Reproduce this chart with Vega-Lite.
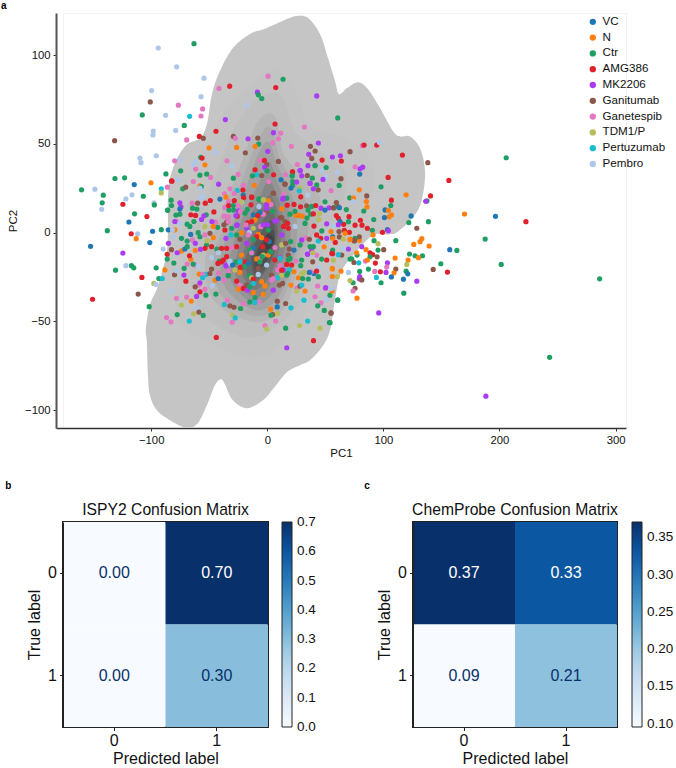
{"$schema":"https://vega.github.io/schema/vega-lite/v6.json","padding":{"left":0,"top":0,"right":0,"bottom":0},"bounds":"flush","spacing":94,"config":{"font":"Liberation Sans","title":{"font":"Liberation Sans","fontWeight":"normal","color":"#111"},"axis":{"labelFont":"Liberation Sans","titleFont":"Liberation Sans","titleFontWeight":"normal","labelColor":"#111","titleColor":"#111","grid":false},"legend":{"labelFont":"Liberation Sans"}},
"datasets":{"kde":[
{"l":"a","i":1,"x":-71,"y":-109.6},{"l":"a","i":2,"x":-83.9,"y":-105.6},{"l":"a","i":3,"x":-95.1,"y":-100},{"l":"a","i":4,"x":-101.1,"y":-91.5},{"l":"a","i":5,"x":-102.8,"y":-80.2},{"l":"a","i":6,"x":-103.7,"y":-61.6},{"l":"a","i":7,"x":-104.6,"y":-54.2},{"l":"a","i":8,"x":-101.1,"y":-40.7},{"l":"a","i":9,"x":-95.1,"y":-31.6},{"l":"a","i":10,"x":-89.9,"y":-20.3},{"l":"a","i":11,"x":-86.5,"y":-10.7},{"l":"a","i":12,"x":-85.6,"y":0.6},{"l":"a","i":13,"x":-85.6,"y":10.2},{"l":"a","i":14,"x":-85.6,"y":19.2},{"l":"a","i":15,"x":-83.9,"y":30.5},{"l":"a","i":16,"x":-77.8,"y":41.8},{"l":"a","i":17,"x":-69.2,"y":49.7},{"l":"a","i":18,"x":-58,"y":53.1},{"l":"a","i":19,"x":-52,"y":61},{"l":"a","i":20,"x":-47.7,"y":78},{"l":"a","i":21,"x":-40.8,"y":91},{"l":"a","i":22,"x":-29.6,"y":104},{"l":"a","i":23,"x":-14.9,"y":111.9},{"l":"a","i":24,"x":-0.3,"y":115.3},{"l":"a","i":25,"x":17,"y":120.3},{"l":"a","i":26,"x":25.6,"y":122},{"l":"a","i":27,"x":35.1,"y":120.9},{"l":"a","i":28,"x":45.4,"y":111.9},{"l":"a","i":29,"x":52.3,"y":98.3},{"l":"a","i":30,"x":58.4,"y":85.3},{"l":"a","i":31,"x":61.8,"y":78},{"l":"a","i":32,"x":68.7,"y":81.4},{"l":"a","i":33,"x":78.2,"y":84.7},{"l":"a","i":34,"x":86.8,"y":80.8},{"l":"a","i":35,"x":97.2,"y":70.1},{"l":"a","i":36,"x":108.4,"y":57.1},{"l":"a","i":37,"x":114.4,"y":54.2},{"l":"a","i":38,"x":123,"y":54.2},{"l":"a","i":39,"x":131.6,"y":47.5},{"l":"a","i":40,"x":135.9,"y":34.5},{"l":"a","i":41,"x":133.4,"y":19.2},{"l":"a","i":42,"x":127.3,"y":10.2},{"l":"a","i":43,"x":112.7,"y":0.6},{"l":"a","i":44,"x":104,"y":-1},{"l":"a","i":45,"x":90.3,"y":-1.7},{"l":"a","i":46,"x":71.3,"y":-14.7},{"l":"a","i":47,"x":62.7,"y":-23.7},{"l":"a","i":48,"x":58.4,"y":-37.3},{"l":"a","i":49,"x":54.1,"y":-54.8},{"l":"a","i":50,"x":47.2,"y":-64.4},{"l":"a","i":51,"x":36.8,"y":-71.8},{"l":"a","i":52,"x":28.2,"y":-74.6},{"l":"a","i":53,"x":17,"y":-78.5},{"l":"a","i":54,"x":4.9,"y":-88.1},{"l":"a","i":55,"x":-3.7,"y":-94.4},{"l":"a","i":56,"x":-17.5,"y":-98.9},{"l":"a","i":57,"x":-29.6,"y":-94.4},{"l":"a","i":58,"x":-36.5,"y":-85.3},{"l":"a","i":59,"x":-39.9,"y":-82.5},{"l":"a","i":60,"x":-45.1,"y":-85.9},{"l":"a","i":61,"x":-52,"y":-97.2},{"l":"a","i":62,"x":-60.6,"y":-107.9},
{"l":"b","i":1,"x":-12.3,"y":-70},{"l":"b","i":2,"x":-66.6,"y":-56},{"l":"b","i":3,"x":-79.6,"y":-39},{"l":"b","i":4,"x":-75,"y":-10.7},{"l":"b","i":5,"x":-66.6,"y":23},{"l":"b","i":6,"x":-53.7,"y":45.8},{"l":"b","i":7,"x":-36.5,"y":68.4},{"l":"b","i":8,"x":-10.6,"y":85.3},{"l":"b","i":9,"x":8.4,"y":92},{"l":"b","i":10,"x":23.9,"y":79.7},{"l":"b","i":11,"x":36.8,"y":60},{"l":"b","i":12,"x":67,"y":53},{"l":"b","i":13,"x":88.5,"y":41.8},{"l":"b","i":14,"x":90.2,"y":23},{"l":"b","i":15,"x":71.3,"y":9},{"l":"b","i":16,"x":45.4,"y":-16.4},{"l":"b","i":17,"x":38.5,"y":-39},{"l":"b","i":18,"x":17,"y":-57.6},
{"l":"c","i":1,"x":-10.6,"y":-58.8},{"l":"c","i":2,"x":-53.7,"y":-47.5},{"l":"c","i":3,"x":-66.6,"y":-22},{"l":"c","i":4,"x":-62.3,"y":6.2},{"l":"c","i":5,"x":-45,"y":31.6},{"l":"c","i":6,"x":-27.8,"y":59.9},{"l":"c","i":7,"x":-4.6,"y":76.8},{"l":"c","i":8,"x":12.6,"y":76.8},{"l":"c","i":9,"x":23.9,"y":57},{"l":"c","i":10,"x":45.4,"y":45.8},{"l":"c","i":11,"x":67,"y":34.5},{"l":"c","i":12,"x":62.7,"y":14.7},{"l":"c","i":13,"x":38.5,"y":-10.7},{"l":"c","i":14,"x":28.2,"y":-39},
{"l":"d","i":1,"x":-10.6,"y":-50.3},{"l":"d","i":2,"x":-45,"y":-39},{"l":"d","i":3,"x":-53.7,"y":-16.4},{"l":"d","i":4,"x":-40.8,"y":9},{"l":"d","i":5,"x":-23.5,"y":37.3},{"l":"d","i":6,"x":-8,"y":62.7},{"l":"d","i":7,"x":6.6,"y":65.5},{"l":"d","i":8,"x":15.3,"y":42.9},{"l":"d","i":9,"x":41.1,"y":26},{"l":"d","i":10,"x":45.4,"y":9},{"l":"d","i":11,"x":28.2,"y":-16.4},{"l":"d","i":12,"x":15.3,"y":-41.8},
{"l":"e","i":1,"x":-10.6,"y":-47},{"l":"e","i":2,"x":-40,"y":-35},{"l":"e","i":3,"x":-46,"y":-13},{"l":"e","i":4,"x":-32,"y":10},{"l":"e","i":5,"x":-17,"y":38},{"l":"e","i":6,"x":-4,"y":57},{"l":"e","i":7,"x":4,"y":58},{"l":"e","i":8,"x":12,"y":40},{"l":"e","i":9,"x":32,"y":20},{"l":"e","i":10,"x":35,"y":-1},{"l":"e","i":11,"x":26,"y":-13},{"l":"e","i":12,"x":12,"y":-39},
{"l":"f","i":1,"x":-10.6,"y":-43.5},{"l":"f","i":2,"x":-36.5,"y":-30.5},{"l":"f","i":3,"x":-39,"y":-10.7},{"l":"f","i":4,"x":-23.5,"y":14.7},{"l":"f","i":5,"x":-10.6,"y":40},{"l":"f","i":6,"x":0.6,"y":51.4},{"l":"f","i":7,"x":9.2,"y":37.3},{"l":"f","i":8,"x":23.9,"y":14.7},{"l":"f","i":9,"x":23.9,"y":-10.7},{"l":"f","i":10,"x":9.2,"y":-36.2},
{"l":"g","i":1,"x":-10.6,"y":-40},{"l":"g","i":2,"x":-32,"y":-26},{"l":"g","i":3,"x":-29,"y":-5},{"l":"g","i":4,"x":-15,"y":17},{"l":"g","i":5,"x":-4,"y":32},{"l":"g","i":6,"x":2,"y":40},{"l":"g","i":7,"x":9,"y":28},{"l":"g","i":8,"x":18,"y":13},{"l":"g","i":9,"x":19,"y":-9},{"l":"g","i":10,"x":7,"y":-32},
{"l":"h","i":1,"x":-10.6,"y":-36.2},{"l":"h","i":2,"x":-27.8,"y":-22},{"l":"h","i":3,"x":-19.3,"y":0.6},{"l":"h","i":4,"x":-6.3,"y":20.3},{"l":"h","i":5,"x":2.3,"y":28.8},{"l":"h","i":6,"x":12.6,"y":11.9},{"l":"h","i":7,"x":15.3,"y":-7.9},{"l":"h","i":8,"x":4,"y":-27.7},
{"l":"j","i":1,"x":-10.6,"y":-32},{"l":"j","i":2,"x":-23,"y":-20},{"l":"j","i":3,"x":-15,"y":-1},{"l":"j","i":4,"x":-3,"y":16},{"l":"j","i":5,"x":3,"y":21},{"l":"j","i":6,"x":11,"y":7},{"l":"j","i":7,"x":12,"y":-3},{"l":"j","i":8,"x":4,"y":-22},
{"l":"k","i":1,"x":-10.6,"y":-27.7},{"l":"k","i":2,"x":-19.3,"y":-17.5},{"l":"k","i":3,"x":-10.6,"y":-2.3},{"l":"k","i":4,"x":2.3,"y":11.9},{"l":"k","i":5,"x":9.2,"y":1.7},{"l":"k","i":6,"x":4,"y":-15.3},
{"l":"m","i":1,"x":-10.6,"y":-24},{"l":"m","i":2,"x":-14,"y":-14},{"l":"m","i":3,"x":-9,"y":-4},{"l":"m","i":4,"x":3,"y":7},{"l":"m","i":5,"x":7,"y":1},{"l":"m","i":6,"x":5,"y":-11},{"l":"m","i":7,"x":-1,"y":-20},
{"l":"n","i":1,"x":-10.6,"y":-20.9},{"l":"n","i":2,"x":-8.9,"y":-10.7},{"l":"n","i":3,"x":4,"y":1.7},{"l":"n","i":4,"x":5.8,"y":-6.8},{"l":"n","i":5,"x":-2,"y":-17.5},
{"l":"o","i":1,"x":0.6,"y":-0.6},{"l":"o","i":2,"x":5.8,"y":-4},{"l":"o","i":3,"x":0.6,"y":-9.6},{"l":"o","i":4,"x":-2.8,"y":-5.1}
],"pts":[
{"g":"Ctr","x":-63.1,"y":106.4},{"g":"Pembro","x":-93.9,"y":104},{"g":"Pembro","x":-78.1,"y":93.4},{"g":"Pembro","x":-54.5,"y":87},{"g":"Ganetespib","x":-41.6,"y":81.2},{"g":"AMG386","x":-32.4,"y":82.5},{"g":"Pembro","x":-99.6,"y":80},{"g":"Pembro","x":-57.1,"y":76.6},{"g":"Ganitumab","x":-100.8,"y":73.6},{"g":"Ganetespib","x":-76.6,"y":71.8},{"g":"Ganetespib","x":-55.7,"y":69.7},{"g":"Pertuzumab","x":-66.9,"y":65.5},{"g":"Ganetespib","x":-57.1,"y":65.7},{"g":"Ctr","x":-107.7,"y":66.3},{"g":"Pembro","x":-87.6,"y":66.1},{"g":"Ctr","x":-71.5,"y":60.4},{"g":"Pembro","x":-78.9,"y":57.6},{"g":"Pembro","x":-98.2,"y":57.2},{"g":"Pembro","x":-98.5,"y":55},{"g":"AMG386","x":-44.2,"y":57.1},{"g":"AMG386","x":-58.5,"y":54.2},{"g":"Ganitumab","x":-55.1,"y":53.1},{"g":"Ganetespib","x":-69.4,"y":52.2},{"g":"Ganitumab","x":-131.5,"y":51.8},{"g":"Pembro","x":-109.7,"y":42},{"g":"Pembro","x":-108.8,"y":39.4},{"g":"Pembro","x":-95.6,"y":43.3},{"g":"Ganetespib","x":-79.8,"y":40.5},{"g":"Ctr","x":-131.2,"y":30.5},{"g":"Ctr","x":-122.9,"y":30.9},{"g":"Ctr","x":-87.3,"y":33.1},{"g":"Ctr","x":-74.6,"y":34.8},{"g":"VC","x":-114.6,"y":27.1},{"g":"N","x":-100.2,"y":28.1},{"g":"AMG386","x":-82.1,"y":29},{"g":"Ctr","x":-160,"y":24.1},{"g":"Pembro","x":-148.5,"y":24.5},{"g":"Pertuzumab","x":-91.3,"y":24.7},{"g":"TDM1/P","x":-91.3,"y":22.4},{"g":"Ctr","x":-141.3,"y":21.1},{"g":"Pembro","x":-121.8,"y":19},{"g":"Pembro","x":-116.6,"y":21.3},{"g":"Ctr","x":-106.8,"y":20.5},{"g":"Ctr","x":-142.2,"y":16.8},{"g":"AMG386","x":-124.4,"y":16},{"g":"Pembro","x":-97.6,"y":16.8},{"g":"Ctr","x":-97.3,"y":15.6},{"g":"Pembro","x":-142.7,"y":13.2},{"g":"Ctr","x":-114.3,"y":10.6},{"g":"AMG386","x":-103.7,"y":9.1},{"g":"Ctr","x":-85.8,"y":12.6},{"g":"VC","x":-119.2,"y":6},{"g":"Ctr","x":-137.8,"y":1.1},{"g":"AMG386","x":-117.2,"y":-0.6},{"g":"Pembro","x":-111.7,"y":-0.7},{"g":"VC","x":-98.8,"y":0.8},{"g":"Ctr","x":-91.3,"y":1.7},{"g":"N","x":-112.9,"y":-3.4},
{"g":"Ganetespib","x":0.7,"y":88.1},{"g":"Ctr","x":13.6,"y":86.4},{"g":"AMG386","x":7.3,"y":81.7},{"g":"MK2206","x":-8.5,"y":79.1},{"g":"Ctr","x":-7.7,"y":77.6},{"g":"Ctr","x":-4.8,"y":75.5},{"g":"Pembro","x":-17.7,"y":71.9},{"g":"MK2206","x":42.6,"y":77},{"g":"Ctr","x":60.7,"y":64.6},{"g":"MK2206","x":-36.1,"y":63.7},{"g":"AMG386","x":6.7,"y":61.2},{"g":"Ganetespib","x":32,"y":59.5},{"g":"MK2206","x":5.3,"y":56.3},{"g":"Ganetespib","x":11.6,"y":56.1},{"g":"Ganetespib","x":9.6,"y":52.9},{"g":"Ganitumab","x":-29.2,"y":54.2},{"g":"Ganetespib","x":-27.5,"y":53.1},{"g":"MK2206","x":-16.6,"y":52.9},{"g":"Ganitumab","x":-8.2,"y":53.3},{"g":"Ganetespib","x":4.7,"y":50.7},{"g":"Ctr","x":-7.4,"y":49.9},{"g":"N","x":-10.5,"y":48.6},{"g":"N","x":-26.4,"y":48},{"g":"N","x":-50.2,"y":47.8},{"g":"Ganetespib","x":20.8,"y":48.6},{"g":"MK2206","x":0.4,"y":45.8},{"g":"Ganitumab","x":-18.9,"y":45},{"g":"Ganitumab","x":37.2,"y":48.6},{"g":"Ganitumab","x":41.2,"y":46},{"g":"MK2206","x":44,"y":50.5},{"g":"MK2206","x":35.7,"y":44.1},{"g":"Ganitumab","x":38.3,"y":41.8},{"g":"AMG386","x":47.2,"y":40.9},{"g":"MK2206","x":56.1,"y":42.6},{"g":"MK2206","x":63,"y":43.3},{"g":"Pembro","x":-45,"y":45.2},{"g":"Ctr","x":-57.4,"y":42.4},{"g":"AMG386","x":-56.2,"y":42},{"g":"N","x":-53.7,"y":38.2},{"g":"Ganetespib","x":-34.7,"y":40.5},{"g":"Pembro","x":-30.4,"y":37.5},{"g":"Ganetespib","x":-6.2,"y":40.9},{"g":"AMG386","x":-2.5,"y":40.7},{"g":"Ganitumab","x":9.6,"y":40.1},{"g":"Ganitumab","x":-0.5,"y":38.4},{"g":"MK2206","x":-2.2,"y":36.9},{"g":"Ganetespib","x":25.9,"y":38.4},{"g":"MK2206","x":41.2,"y":37.9},{"g":"Ctr","x":50.7,"y":36.7},{"g":"Pembro","x":46.9,"y":35},{"g":"Pembro","x":50.4,"y":31.6},{"g":"Pembro","x":60.4,"y":33.9},{"g":"Ganetespib","x":-61.7,"y":35.8},{"g":"Pembro","x":-63.7,"y":38.2},{"g":"Pembro","x":-61.7,"y":40.1},{"g":"Ctr","x":-52.2,"y":33},{"g":"Ctr","x":-58,"y":32.4},{"g":"Ganetespib","x":-63.7,"y":28.8},{"g":"Ctr","x":-72.9,"y":24.7},{"g":"Ganitumab","x":-70.3,"y":25.6},{"g":"Ganetespib","x":-86.1,"y":25.6},{"g":"Pembro","x":-76.9,"y":29.6},{"g":"N","x":-58,"y":26.4},{"g":"Ctr","x":-56.8,"y":26},{"g":"Pembro","x":-58,"y":25.1},{"g":"MK2206","x":-41.9,"y":27.3},{"g":"Ganetespib","x":-48.8,"y":31.1},{"g":"Ganetespib","x":-25.2,"y":32.8},{"g":"Ctr","x":-29.2,"y":30.7},{"g":"Ganetespib","x":-20.6,"y":26.6},{"g":"AMG386","x":-10.5,"y":35.4},{"g":"Ctr","x":-0.2,"y":34.8},{"g":"AMG386","x":5.5,"y":32.6},{"g":"Pertuzumab","x":-9.1,"y":32.6},{"g":"Ganitumab","x":-4.8,"y":32.2},{"g":"Ctr","x":-12.8,"y":32},{"g":"N","x":-11.1,"y":26.7},{"g":"Ganetespib","x":1.2,"y":28.8},{"g":"Ganetespib","x":15.6,"y":32.6},{"g":"AMG386","x":21.6,"y":34.3},{"g":"MK2206","x":28.5,"y":34.8},{"g":"Ctr","x":21.6,"y":32},{"g":"MK2206","x":29.7,"y":32},{"g":"Ganitumab","x":15.3,"y":27.3},{"g":"Ctr","x":21.9,"y":28.8},{"g":"MK2206","x":36.9,"y":27.7},{"g":"Ctr","x":42.6,"y":26.9},{"g":"Ganitumab","x":43.8,"y":24.1},{"g":"TDM1/P","x":28.3,"y":25.1},{"g":"Ganetespib","x":55,"y":23.7},{"g":"Ctr","x":61.9,"y":26.6},{"g":"Ganitumab","x":5.3,"y":22.2},{"g":"Ganetespib","x":13.9,"y":21.7},{"g":"Pembro","x":34.9,"y":21.1},{"g":"AMG386","x":28.8,"y":20.2},
{"g":"Ganetespib","x":81.9,"y":49},{"g":"AMG386","x":83.4,"y":49.3},{"g":"AMG386","x":94.3,"y":49.3},{"g":"Pembro","x":96.6,"y":50.8},{"g":"AMG386","x":116.4,"y":43.7},{"g":"Ganitumab","x":71.3,"y":45.6},{"g":"AMG386","x":63.8,"y":40.3},{"g":"Ganetespib","x":75.6,"y":37.1},{"g":"MK2206","x":79.9,"y":36},{"g":"MK2206","x":82.2,"y":36.9},{"g":"VC","x":79.6,"y":33},{"g":"Ganitumab","x":138.3,"y":39.4},{"g":"Ctr","x":205.8,"y":42.2},{"g":"AMG386","x":156.4,"y":29.4},{"g":"AMG386","x":104.1,"y":31.1},{"g":"Ctr","x":98,"y":25.8},{"g":"N","x":79.3,"y":24.1},{"g":"N","x":119.6,"y":21.3},{"g":"AMG386","x":140.6,"y":20.7},{"g":"Ctr","x":137.5,"y":17.9},{"g":"MK2206","x":136.5,"y":17.7},{"g":"AMG386","x":106.9,"y":18.3},{"g":"N","x":85.4,"y":17.5},{"g":"Ctr","x":106.4,"y":15.3},{"g":"N","x":85.9,"y":14.5},{"g":"Ganitumab","x":85.7,"y":20.7},{"g":"Ctr","x":71,"y":19.6},{"g":"N","x":74.2,"y":19.4},{"g":"Pembro","x":74.2,"y":17.5},{"g":"Ganitumab","x":59.5,"y":17},{"g":"Ganitumab","x":60.7,"y":14.7},{"g":"VC","x":62.1,"y":14.1},{"g":"Ctr","x":57.5,"y":14.1},{"g":"Ctr","x":68.1,"y":13},{"g":"Ctr","x":83.1,"y":12.2},{"g":"VC","x":101.5,"y":12.8},{"g":"N","x":104.3,"y":12.6},{"g":"N","x":106.9,"y":10},{"g":"N","x":104.9,"y":8.9},{"g":"VC","x":100.9,"y":8.5},{"g":"VC","x":123.9,"y":9.4},{"g":"N","x":169.9,"y":10.5},{"g":"VC","x":196.6,"y":9.2},{"g":"AMG386","x":222.8,"y":6.2},{"g":"Ctr","x":91.7,"y":7.4},{"g":"Ctr","x":121.9,"y":5.7},{"g":"Ctr","x":138.8,"y":6.2},{"g":"Ganitumab","x":128.8,"y":2.5},{"g":"AMG386","x":59.5,"y":9.6},{"g":"AMG386","x":61.2,"y":8.1},{"g":"AMG386","x":70.4,"y":9},{"g":"Ctr","x":69.9,"y":6.2},{"g":"AMG386","x":80.2,"y":7},{"g":"AMG386","x":81.6,"y":4.2},{"g":"AMG386","x":75.6,"y":4.2},{"g":"AMG386","x":86.2,"y":2.5},{"g":"AMG386","x":99.2,"y":0.2},{"g":"VC","x":103.5,"y":1.7},{"g":"MK2206","x":104.3,"y":1.1},{"g":"Ctr","x":90.5,"y":1.3},{"g":"N","x":91.1,"y":-1.3},{"g":"AMG386","x":65.8,"y":4.7},{"g":"AMG386","x":66.4,"y":1.3},{"g":"AMG386","x":70.7,"y":0.2},{"g":"Ganitumab","x":61.8,"y":0.6},{"g":"N","x":54.9,"y":0.6},{"g":"VC","x":56.3,"y":-2.4},{"g":"VC","x":62.7,"y":6.2},{"g":"MK2206","x":61.2,"y":4.5},{"g":"Ganitumab","x":62.1,"y":-2.4},{"g":"N","x":71.3,"y":-3.6},{"g":"N","x":79.3,"y":-4.3},{"g":"Ganitumab","x":79.3,"y":-2.3},{"g":"TDM1/P","x":65.5,"y":-3.6},{"g":"Ctr","x":75.6,"y":-3.2},{"g":"Ganitumab","x":75,"y":-4.3},{"g":"N","x":67,"y":-0.4},
{"g":"Ctr","x":187.7,"y":-3.6},{"g":"Ctr","x":110.7,"y":-4.5},{"g":"N","x":133.1,"y":-3.4},{"g":"N","x":131.6,"y":-5.1},{"g":"N","x":126.2,"y":-6.6},{"g":"N","x":139.4,"y":-7.5},{"g":"VC","x":157.2,"y":-9.6},{"g":"Ctr","x":163.3,"y":-10},{"g":"Ctr","x":122.5,"y":-12},{"g":"Ctr","x":127.3,"y":-13},{"g":"Ctr","x":133.7,"y":-13},{"g":"N","x":130.2,"y":-14.1},{"g":"N","x":121.3,"y":-15.4},{"g":"TDM1/P","x":120.2,"y":-17.9},{"g":"Ctr","x":149.5,"y":-17.5},{"g":"Ctr","x":201.5,"y":-17.9},{"g":"Ganitumab","x":142.9,"y":-20.7},{"g":"AMG386","x":155.2,"y":-22.2},{"g":"Ctr","x":286.3,"y":-26},{"g":"N","x":110.1,"y":-14.3},{"g":"MK2206","x":103.5,"y":-17},{"g":"Ganetespib","x":102.9,"y":-19.4},{"g":"Ganitumab","x":110.7,"y":-20.5},{"g":"N","x":109.2,"y":-22.6},{"g":"VC","x":106.9,"y":-24.9},{"g":"AMG386","x":97.4,"y":-22},{"g":"MK2206","x":102.3,"y":-22.4},{"g":"Ganetespib","x":92.6,"y":-21.8},{"g":"Ctr","x":119.6,"y":-21.7},{"g":"VC","x":121,"y":-23.2},{"g":"VC","x":117.3,"y":-26.2},{"g":"MK2206","x":128.8,"y":-27.3},{"g":"Ctr","x":117.6,"y":-34.1},{"g":"Pertuzumab","x":94,"y":-25.2},{"g":"Ctr","x":98,"y":-28.2},{"g":"MK2206","x":96,"y":-45.2},{"g":"Ctr","x":243.2,"y":-70.2},{"g":"MK2206","x":188.3,"y":-92.1},{"g":"Ctr","x":92,"y":-4.5},{"g":"TDM1/P","x":95.4,"y":-6.2},{"g":"Ctr","x":95.4,"y":-9.8},{"g":"Ganitumab","x":100.3,"y":-9.6},{"g":"AMG386","x":88.5,"y":-11.3},{"g":"AMG386","x":90.8,"y":-12.4},{"g":"Ganitumab","x":94.6,"y":-13.6},{"g":"Ctr","x":88.5,"y":-13.6},{"g":"N","x":85.1,"y":-9.6},{"g":"AMG386","x":93.1,"y":-17.1},{"g":"Ganetespib","x":84.5,"y":-16},{"g":"Ctr","x":87.1,"y":-20.5},{"g":"N","x":86.2,"y":-15.4},{"g":"Ctr","x":77.3,"y":-12.6},{"g":"Ctr","x":72.7,"y":-14.7},{"g":"Ganitumab","x":74.7,"y":-16.8},{"g":"Pertuzumab","x":78.8,"y":-17},{"g":"Ctr","x":79.6,"y":-21.8},{"g":"MK2206","x":79.6,"y":-24.7},{"g":"MK2206","x":79.3,"y":-26},{"g":"Ganitumab","x":81.4,"y":-26.6},{"g":"Ctr","x":73.9,"y":-28.2},{"g":"TDM1/P","x":71.3,"y":-27},{"g":"Ganitumab","x":75.6,"y":-31.3},{"g":"Ganetespib","x":73.9,"y":-32.8},{"g":"N","x":77.3,"y":-36.9},{"g":"Ctr","x":60.7,"y":-38},{"g":"Pembro","x":69.9,"y":-22.4},{"g":"N","x":63.5,"y":-21.7},{"g":"TDM1/P","x":60.4,"y":-24.7},{"g":"Ganitumab","x":54.9,"y":-45.2},{"g":"Ctr","x":54.1,"y":-50.7},{"g":"MK2206","x":81.4,"y":-7.9},{"g":"N","x":77,"y":-11.3},{"g":"Ganitumab","x":64.1,"y":-12.6},{"g":"Pertuzumab","x":61.2,"y":-12.4},{"g":"MK2206","x":69.9,"y":-9.2},{"g":"Pembro","x":65.5,"y":-8.9},{"g":"Ganitumab","x":75,"y":-4.7},{"g":"N","x":71.3,"y":-4},{"g":"AMG386","x":58.6,"y":-5.5},{"g":"Ctr","x":56.3,"y":-9.8},{"g":"AMG386","x":56.3,"y":-11.9},{"g":"TDM1/P","x":56.9,"y":-15.6},{"g":"N","x":56.1,"y":-20.5},{"g":"N","x":56.1,"y":-24.7},{"g":"Ctr","x":54,"y":-35.2},
{"g":"AMG386","x":21.8,"y":34.1},{"g":"MK2206","x":35.1,"y":37.7},{"g":"Ctr","x":41.1,"y":37.7},{"g":"Ctr","x":21.3,"y":32},{"g":"MK2206","x":28.2,"y":35.1},{"g":"Ganitumab","x":34.5,"y":32.2},{"g":"Ctr","x":38.8,"y":30.7},{"g":"Pembro","x":48.9,"y":30.2},{"g":"MK2206","x":48,"y":30},{"g":"Ganitumab","x":63.5,"y":30.4},{"g":"VC","x":11.8,"y":29.8},{"g":"Ganitumab","x":15.2,"y":27.4},{"g":"Ctr","x":21.8,"y":26.6},{"g":"MK2206","x":25.3,"y":28.5},{"g":"VC","x":20.4,"y":25.1},{"g":"MK2206","x":36.8,"y":27.9},{"g":"MK2206","x":39.7,"y":24.7},{"g":"Pertuzumab","x":27.6,"y":23.6},{"g":"MK2206","x":13.2,"y":18.9},{"g":"Ctr","x":16.7,"y":19.4},{"g":"AMG386","x":17.2,"y":15.5},{"g":"AMG386","x":23,"y":15.9},{"g":"N","x":12.4,"y":13.5},{"g":"AMG386","x":28.7,"y":14.6},{"g":"Ganitumab","x":33.9,"y":15.1},{"g":"Ctr","x":35.1,"y":12.7},{"g":"Ctr","x":38.2,"y":14.8},{"g":"Ctr","x":49.7,"y":17.4},{"g":"MK2206","x":53.2,"y":14},{"g":"Ganitumab","x":56.9,"y":14},{"g":"AMG386","x":41.7,"y":15.3},{"g":"N","x":27.3,"y":9.7},{"g":"N","x":24.7,"y":9.7},{"g":"N","x":30.2,"y":9.3},{"g":"Ctr","x":23.9,"y":12},{"g":"Ctr","x":37.4,"y":10.4},{"g":"TDM1/P","x":45.1,"y":10.8},{"g":"TDM1/P","x":44.5,"y":7.4},{"g":"AMG386","x":39.7,"y":10.6},{"g":"MK2206","x":46.3,"y":13.8},{"g":"VC","x":49.7,"y":12.7},{"g":"Ctr","x":34.2,"y":8.2},{"g":"Ganitumab","x":16.7,"y":5.4},{"g":"Ganitumab","x":10.9,"y":8.2},{"g":"AMG386","x":40.2,"y":3.7},{"g":"Ctr","x":32.5,"y":5.2},{"g":"MK2206","x":51.2,"y":5},{"g":"Pembro","x":56.9,"y":3.9},{"g":"Ganetespib","x":3.2,"y":15.9},{"g":"Ctr","x":4.6,"y":12},{"g":"Pembro","x":23.9,"y":3.5},{"g":"MK2206","x":8,"y":6.7},{"g":"AMG386","x":14,"y":3.5},
{"g":"Pembro","x":-75,"y":41},{"g":"AMG386","x":-82.5,"y":29.2},{"g":"AMG386","x":-21,"y":24},{"g":"Ganetespib","x":-32.2,"y":24.7},{"g":"Pertuzumab","x":-25.9,"y":23.8},{"g":"Ganetespib","x":-36.8,"y":21.9},{"g":"Ganetespib","x":-28.4,"y":22.1},{"g":"VC","x":-20.7,"y":21.2},{"g":"N","x":-35.6,"y":20},{"g":"AMG386","x":-28.4,"y":18},{"g":"AMG386","x":-20.4,"y":19.6},{"g":"AMG386","x":-13.5,"y":20},{"g":"Ctr","x":-7.2,"y":18.7},{"g":"TDM1/P","x":-3.1,"y":18.5},{"g":"N","x":0.8,"y":18},{"g":"VC","x":-40.8,"y":18.9},{"g":"Pembro","x":-55.2,"y":20.8},{"g":"Pembro","x":-57.5,"y":19.8},{"g":"Ctr","x":-82.8,"y":18.3},{"g":"Ganetespib","x":-64.7,"y":16.6},{"g":"AMG386","x":-49.1,"y":18.1},{"g":"AMG386","x":-53.4,"y":16.6},{"g":"Ganitumab","x":-60,"y":16.6},{"g":"Ctr","x":-64.4,"y":13.8},{"g":"Ctr","x":-60.6,"y":13.3},{"g":"MK2206","x":-75.3,"y":16.8},{"g":"MK2206","x":-74.4,"y":14.6},{"g":"VC","x":-75.3,"y":13.3},{"g":"Ctr","x":-82.5,"y":15.3},{"g":"Ctr","x":-85.9,"y":12.7},{"g":"Ctr","x":-52.6,"y":10.1},{"g":"MK2206","x":-54.6,"y":9.5},{"g":"AMG386","x":-46,"y":11.7},{"g":"AMG386","x":-65.8,"y":10.1},{"g":"AMG386","x":-61.8,"y":9.7},{"g":"Ctr","x":-75.3,"y":10.4},{"g":"Ctr","x":-78.7,"y":9.9},{"g":"Ganetespib","x":-36.5,"y":14.2},{"g":"Ganetespib","x":-33.3,"y":17.6},{"g":"Ctr","x":-33,"y":12.7},{"g":"Ctr","x":-29,"y":12.7},{"g":"MK2206","x":-25,"y":12.3},{"g":"Pembro","x":-22.1,"y":17.2},{"g":"TDM1/P","x":-22.7,"y":17.2},{"g":"Pembro","x":-7.2,"y":14.8},{"g":"Ctr","x":-17.2,"y":13.1},{"g":"AMG386","x":-14,"y":15.7},{"g":"MK2206","x":-0.6,"y":15.7},{"g":"Ganetespib","x":-23,"y":11.9},{"g":"Ganitumab","x":-0.6,"y":11.9},{"g":"AMG386","x":-33.3,"y":15.3},{"g":"Ctr","x":-7.7,"y":10.8},{"g":"VC","x":-12,"y":10},{"g":"Ganitumab","x":-35,"y":5.9},{"g":"Ganetespib","x":-37.1,"y":9.3},{"g":"Ganetespib","x":-33.6,"y":8.9},{"g":"AMG386","x":-25.9,"y":9.3},{"g":"MK2206","x":-26.4,"y":4.1},{"g":"N","x":-14.1,"y":6.3},{"g":"AMG386","x":-17.2,"y":5.5},{"g":"Ganetespib","x":-44.5,"y":5.9},{"g":"MK2206","x":-47.7,"y":6.3},{"g":"Ctr","x":-42.8,"y":3},{"g":"TDM1/P","x":-53.7,"y":3.5},{"g":"N","x":-46.5,"y":3.5},{"g":"Ctr","x":-69,"y":4.8},{"g":"Ctr","x":-63.2,"y":6.3},{"g":"MK2206","x":-56.6,"y":7.4},{"g":"Ganetespib","x":-78.2,"y":6.3},{"g":"MK2206","x":-79.6,"y":6.3},{"g":"Ctr","x":-66.7,"y":3.5},{"g":"Pembro","x":-75.3,"y":5.4},{"g":"N","x":-79.6,"y":1.6},{"g":"VC","x":-85.3,"y":1.6},{"g":"Pembro","x":-81.6,"y":1.6},
{"g":"VC","x":-101.2,"y":-5.6},{"g":"Pembro","x":-89.7,"y":-9.2},{"g":"N","x":-73.9,"y":-10.3},{"g":"MK2206","x":-85.1,"y":-6},{"g":"Ganitumab","x":-82.5,"y":-9.6},{"g":"AMG386","x":-86.2,"y":-12.2},{"g":"Ctr","x":-86.2,"y":-14.9},{"g":"MK2206","x":-77.6,"y":-11.3},{"g":"VC","x":-71,"y":-9.2},{"g":"Ctr","x":-69,"y":-7.9},{"g":"Ctr","x":-69,"y":-4.7},{"g":"Ganetespib","x":-64.4,"y":-4.1},{"g":"Ctr","x":-73.9,"y":-3.2},{"g":"Pembro","x":-81,"y":-2.3},{"g":"Ctr","x":-117,"y":-18.6},{"g":"Ctr","x":-115,"y":-19.8},{"g":"Ctr","x":-95.7,"y":-19.8},{"g":"AMG386","x":-108,"y":-25.2},{"g":"TDM1/P","x":-97.7,"y":-28.6},{"g":"Pembro","x":-96,"y":-29.1},{"g":"Ctr","x":-93.4,"y":-25.8},{"g":"Pertuzumab","x":-90.5,"y":-25.8},{"g":"N","x":-88.2,"y":-21},{"g":"Ganitumab","x":-111.2,"y":-34.6},{"g":"Ctr","x":-101.7,"y":-41.7},{"g":"Pembro","x":-82.5,"y":-32.7},{"g":"AMG386","x":-70.1,"y":-27.3},{"g":"MK2206","x":-71.8,"y":-23.9},{"g":"Ganitumab","x":-79.9,"y":-23.7},{"g":"Pembro","x":-78.2,"y":-21.4},{"g":"Ctr","x":-80.5,"y":-17.1},{"g":"Ganetespib","x":-78.2,"y":-37},{"g":"Ganetespib","x":-69.5,"y":-36.3},{"g":"N","x":-65.5,"y":-38.5},{"g":"TDM1/P","x":-73.9,"y":-40.8},{"g":"Pembro","x":-60.9,"y":-42.3},{"g":"TDM1/P","x":-63.5,"y":-45.7},{"g":"Ganitumab","x":-58.9,"y":-44.7},{"g":"Ctr","x":-55.2,"y":-46.6},{"g":"Ctr","x":-77.6,"y":-46.1},{"g":"Ganetespib","x":-86.8,"y":-47.8},{"g":"Ganetespib","x":-83,"y":-50.2},{"g":"Pertuzumab","x":-67.2,"y":-49.8},{"g":"MK2206","x":-60.9,"y":-35.9},{"g":"AMG386","x":-58,"y":-33.3},{"g":"Ctr","x":-52.9,"y":-35.2},{"g":"Ganetespib","x":-53.7,"y":-31.8},{"g":"Ganetespib","x":-58.9,"y":-29.5},{"g":"MK2206","x":-58,"y":-28.2},{"g":"Ganitumab","x":-62.1,"y":-30.5},{"g":"Ctr","x":-44.3,"y":-34.6},{"g":"Pembro","x":-47.4,"y":-29.9},{"g":"N","x":-44.8,"y":-26.7},{"g":"VC","x":-42.2,"y":-25.8},{"g":"Ganetespib","x":-42,"y":-22.8},{"g":"N","x":-58.6,"y":-23.3},{"g":"Pertuzumab","x":-52.9,"y":-23.5},{"g":"Ganetespib","x":-55.7,"y":-23.5},{"g":"Pertuzumab","x":-55.7,"y":-25.4},{"g":"Ganitumab","x":-49.4,"y":-23},{"g":"Ganitumab","x":-48,"y":-20.5},{"g":"Ctr","x":-41.4,"y":-16},{"g":"Ganetespib","x":-62.5,"y":-18.3},{"g":"Pembro","x":-59.5,"y":-18.8},{"g":"Ctr","x":-63.8,"y":-17.7},{"g":"N","x":-65.8,"y":-15},{"g":"Ganetespib","x":-69,"y":-17.7},{"g":"Ctr","x":-71.6,"y":-20.1},{"g":"Pembro","x":-48,"y":-14.1},{"g":"AMG386","x":-42.5,"y":-17.3},{"g":"AMG386","x":-39.4,"y":-16.4},{"g":"AMG386","x":-35,"y":-13.5},{"g":"AMG386","x":-37.9,"y":-15.4},{"g":"MK2206","x":-35.6,"y":-18.2},{"g":"Pembro","x":-32.2,"y":-16},{"g":"Ctr","x":-33.6,"y":-23.9},{"g":"Ganetespib","x":-33.6,"y":-21.6},{"g":"Ganetespib","x":-2,"y":-52.3},{"g":"TDM1/P","x":-0.5,"y":-54.3},{"g":"AMG386","x":-43.9,"y":-59},{"g":"MK2206","x":16.8,"y":-64.8},{"g":"AMG386","x":39.8,"y":-60.8},{"g":"VC","x":-152.2,"y":-7.7},{"g":"MK2206","x":-124.4,"y":-11.5},{"g":"Pembro","x":-121.8,"y":-18.6},{"g":"Ctr","x":-130.7,"y":-21.1},{"g":"AMG386","x":-150.5,"y":-37.5},
{"g":"Ctr","x":-59.5,"y":0},{"g":"Ctr","x":-58,"y":-2.3},{"g":"Ganitumab","x":-49.4,"y":-0.4},{"g":"Ganetespib","x":-53.7,"y":-1.3},{"g":"Ctr","x":-52.3,"y":-7},{"g":"AMG386","x":-48,"y":-7.9},{"g":"AMG386","x":-53.7,"y":-8.8},{"g":"MK2206","x":-57.5,"y":-9.4},{"g":"Ctr","x":-43.4,"y":-9.2},{"g":"AMG386","x":-39.4,"y":-8.8},{"g":"N","x":-46.5,"y":-2.8},{"g":"TDM1/P","x":-51.7,"y":-4.5},{"g":"Pembro","x":-42.2,"y":-11.3},{"g":"VC","x":-66,"y":-1},{"g":"N","x":-62,"y":-10},{"g":"AMG386","x":-67,"y":-13},{"g":"MK2206","x":-62,"y":-6},{"g":"Ctr","x":47,"y":1},{"g":"Ganetespib","x":33,"y":-3},{"g":"N","x":49,"y":-8},{"g":"Ctr","x":36.8,"y":-7.9},{"g":"MK2206","x":38.2,"y":-10.2},{"g":"Ganetespib","x":42.5,"y":-12.6},{"g":"Pembro","x":38.8,"y":-12.2},{"g":"Ctr","x":46.8,"y":-14.9},{"g":"Ganitumab","x":39.1,"y":-16.4},{"g":"AMG386","x":51.2,"y":-15.4},{"g":"AMG386","x":55.5,"y":-11.7},{"g":"Ctr","x":71.3,"y":-14.9},{"g":"MK2206","x":34.8,"y":-12.2},{"g":"AMG386","x":46,"y":-3.2},{"g":"MK2206","x":51.2,"y":-3.2},{"g":"N","x":56.3,"y":-3.2},{"g":"Pertuzumab","x":44,"y":-4.7},{"g":"Pembro","x":44,"y":-19.7},{"g":"N","x":56,"y":-20.1},{"g":"Ctr","x":44,"y":-24.8},{"g":"VC","x":40.2,"y":-23},{"g":"Ganetespib","x":37.7,"y":-22},{"g":"AMG386","x":42.5,"y":-21.6},{"g":"Ganetespib","x":43.4,"y":-30.1},{"g":"Ganetespib","x":50,"y":-31.4},{"g":"MK2206","x":50.3,"y":-31},{"g":"N","x":55.8,"y":-32.9},{"g":"Pembro","x":55.2,"y":-31.4},{"g":"Pembro","x":50.6,"y":-37.4},{"g":"Ctr","x":60.6,"y":-38},{"g":"Ganetespib","x":46.3,"y":-39.5},{"g":"Ctr","x":43.4,"y":-41.2},{"g":"Ctr","x":49.1,"y":-43.8},{"g":"Ganitumab","x":54.9,"y":-45.3},{"g":"Ctr","x":53.5,"y":-50.6},{"g":"TDM1/P","x":45.4,"y":-53.8},{"g":"Pertuzumab","x":34.8,"y":-49.8},{"g":"TDM1/P","x":27.9,"y":-52.3},{"g":"Ctr","x":15.8,"y":-53.8},{"g":"Ganetespib","x":7.2,"y":-49.8},{"g":"Ganitumab","x":4.6,"y":-46.1},
{"g":"AMG386","x":-13.5,"y":20},{"g":"Ctr","x":-7.2,"y":19},{"g":"TDM1/P","x":-3.4,"y":18.5},{"g":"Ganitumab","x":5.2,"y":22.3},{"g":"MK2206","x":13.8,"y":19.4},{"g":"Ganitumab","x":12.4,"y":8.5},{"g":"Ganitumab","x":15.2,"y":6.3},{"g":"AMG386","x":17.5,"y":5.3},{"g":"AMG386","x":18.1,"y":2.5},{"g":"MK2206","x":6.6,"y":6.6},{"g":"Ctr","x":19.5,"y":10.4},{"g":"MK2206","x":-0.6,"y":13.8},{"g":"Ganetespib","x":-3.4,"y":10.4},{"g":"VC","x":-6.3,"y":11.3},{"g":"AMG386","x":-8.3,"y":9.6},{"g":"N","x":-10.6,"y":7.2},{"g":"AMG386","x":-13.5,"y":6.3},{"g":"Ctr","x":-19.2,"y":11},{"g":"Ganetespib","x":-25,"y":15.3},{"g":"Ctr","x":-29.3,"y":15.3},{"g":"MK2206","x":-27,"y":9.6},{"g":"MK2206","x":-25.9,"y":4.4},{"g":"Ctr","x":-30.7,"y":2.5},{"g":"Ganetespib","x":-35.6,"y":9.1},{"g":"Ganetespib","x":-33.6,"y":6.3},{"g":"Ganitumab","x":-37.4,"y":4.4},{"g":"AMG386","x":-36.5,"y":1.5},{"g":"MK2206","x":-17.8,"y":2.5},{"g":"Ganetespib","x":-18.4,"y":4.4},{"g":"TDM1/P","x":-12,"y":2.5},{"g":"Pembro","x":-15.5,"y":0},{"g":"Ganetespib","x":-5.7,"y":3.4},{"g":"MK2206","x":0.3,"y":4.4},{"g":"Ctr","x":0.9,"y":1.5},{"g":"MK2206","x":-3.4,"y":4.4},{"g":"MK2206","x":12.4,"y":-1.3},{"g":"N","x":-7.7,"y":-0.9},{"g":"N","x":-4.9,"y":-2.8},{"g":"AMG386","x":-9.2,"y":-2.2},{"g":"Ctr","x":-12,"y":-3.7},{"g":"Ganetespib","x":-16.4,"y":-1.3},{"g":"Ctr","x":-26.4,"y":-1.3},{"g":"Pertuzumab","x":-31.3,"y":-1.3},{"g":"N","x":-22.1,"y":0},{"g":"MK2206","x":-35.6,"y":-3.2},{"g":"Ganitumab","x":-23.6,"y":-3.7},{"g":"MK2206","x":-17.8,"y":-6},{"g":"AMG386","x":-26.4,"y":-7.9},{"g":"Ganetespib","x":-30.7,"y":-8.4},{"g":"VC","x":-12,"y":-8.8},{"g":"Ctr","x":-15,"y":-9.8},{"g":"AMG386","x":-4,"y":-7.9},{"g":"VC","x":1.7,"y":-5},{"g":"AMG386","x":-0.6,"y":-4.1},{"g":"Ganetespib","x":6.6,"y":-8.4},{"g":"TDM1/P","x":12.4,"y":-6.9},{"g":"Ganitumab","x":15.8,"y":-6},{"g":"Ctr","x":20.1,"y":-5},{"g":"TDM1/P","x":-3.4,"y":-12.6},{"g":"Ctr","x":-13.5,"y":-11.6},{"g":"AMG386","x":-35,"y":-8.8},{"g":"MK2206","x":29.6,"y":-4.1},{"g":"Ctr","x":28.2,"y":-6.9},{"g":"Ganitumab","x":36.2,"y":-3.7},{"g":"AMG386","x":42.5,"y":-1.3},{"g":"Ctr","x":39.7,"y":-7.9},{"g":"MK2206","x":34.5,"y":-12},{"g":"TDM1/P","x":39.1,"y":-11.3},{"g":"Ganetespib","x":-6.3,"y":-14.5},{"g":"N","x":-22.1,"y":-12.6},{"g":"Ganitumab","x":19,"y":-9.2},{"g":"VC","x":23,"y":-9.8},{"g":"Ganitumab","x":18.1,"y":-12.6},{"g":"Ctr","x":19.6,"y":-14.5},{"g":"MK2206","x":10.9,"y":-14},
{"g":"N","x":-9.2,"y":-14.8},{"g":"Ganetespib","x":-13.5,"y":-11.3},{"g":"Ctr","x":-4.3,"y":-13.5},{"g":"AMG386","x":-19.2,"y":-16.4},{"g":"AMG386","x":-23,"y":-19.6},{"g":"N","x":-23.6,"y":-22.4},{"g":"Ctr","x":-27,"y":-16.4},{"g":"TDM1/P","x":-27.9,"y":-21},{"g":"Ctr","x":-6.3,"y":-16.4},{"g":"Pembro","x":-32.2,"y":-17.3},{"g":"MK2206","x":-35.6,"y":-18.8},{"g":"Ganetespib","x":-37.4,"y":-26.7},{"g":"Ctr","x":-33.6,"y":-24.3},{"g":"VC","x":-29.9,"y":-18.2},{"g":"AMG386","x":-26.4,"y":-27.3},{"g":"Ganetespib","x":-23.6,"y":-29.5},{"g":"N","x":-25,"y":-31.8},{"g":"Ganitumab","x":-17.8,"y":-29.5},{"g":"Ctr","x":-15.5,"y":-24.3},{"g":"TDM1/P","x":-13.5,"y":-25.4},{"g":"Pembro","x":-7.8,"y":-23.5},{"g":"AMG386","x":-12,"y":-26.2},{"g":"Pertuzumab","x":-12,"y":-28.6},{"g":"N","x":-4.9,"y":-27.6},{"g":"N","x":-2,"y":-30},{"g":"AMG386","x":-20.7,"y":-31.4},{"g":"MK2206","x":-17.2,"y":-32.4},{"g":"Ctr","x":-15,"y":-30.5},{"g":"N","x":-3.4,"y":-34.8},{"g":"N","x":-12,"y":-33.7},{"g":"Ganetespib","x":3.7,"y":-26.7},{"g":"Ganetespib","x":8.9,"y":-21},{"g":"TDM1/P","x":12.4,"y":-23.9},{"g":"Pertuzumab","x":8.6,"y":-25.4},{"g":"Ctr","x":16.7,"y":-23.9},{"g":"Ganitumab","x":10.4,"y":-29.5},{"g":"MK2206","x":5.2,"y":-32.4},{"g":"Ganetespib","x":25.3,"y":-31.4},{"g":"N","x":20.4,"y":-29.5},{"g":"Pertuzumab","x":19,"y":-21},{"g":"N","x":26.7,"y":-25.4},{"g":"Ctr","x":30.5,"y":-25.8},{"g":"Ctr","x":35.4,"y":-26.1},{"g":"VC","x":36.2,"y":-22.4},{"g":"TDM1/P","x":31.6,"y":-22.4},{"g":"Ganitumab","x":28.2,"y":-30.1},{"g":"N","x":32.5,"y":-32.9},{"g":"Ganetespib","x":41.1,"y":-36.1},{"g":"Pertuzumab","x":31.6,"y":-38},{"g":"Ctr","x":-10.6,"y":-36.7},{"g":"Ctr","x":-15,"y":-39},{"g":"Ganetespib","x":-7.2,"y":-39},{"g":"Pertuzumab","x":-10.6,"y":-39.3},{"g":"Ganetespib","x":-20.7,"y":-39.9},{"g":"Pertuzumab","x":-37,"y":-40.4},{"g":"Ganetespib","x":-34.5,"y":-38},{"g":"Ganitumab","x":-32.2,"y":-41.2},{"g":"Ganitumab","x":-28.7,"y":-42},{"g":"Ctr","x":-23,"y":-42.7},{"g":"TDM1/P","x":-29.9,"y":-46.5},{"g":"Pertuzumab","x":-27.6,"y":-48},{"g":"Ganetespib","x":-30.2,"y":-50.4},{"g":"Ctr","x":3.2,"y":-46.5},{"g":"N","x":2.9,"y":-43.1},{"g":"Ganitumab","x":8.6,"y":-38.6},{"g":"VC","x":8.6,"y":-41.8},{"g":"Ganitumab","x":15.8,"y":-39.9},{"g":"Pertuzumab","x":20.4,"y":-42.3},{"g":"TDM1/P","x":8.9,"y":-45.5},{"g":"Ctr","x":18.1,"y":-15.4},{"g":"AMG386","x":21,"y":-18.2},{"g":"AMG386","x":16.7,"y":-17.9},{"g":"Ctr","x":28.8,"y":-18.6},{"g":"Ganitumab","x":3.7,"y":-23.9},{"g":"MK2206","x":13.8,"y":-21},{"g":"AMG386","x":6.6,"y":-15.4},{"g":"Ctr","x":29.6,"y":-15.4},{"g":"Ganetespib","x":10.9,"y":-18.6},{"g":"TDM1/P","x":29.6,"y":-23},{"g":"N","x":23,"y":-22},{"g":"AMG386","x":12.4,"y":-21.1},{"g":"Ctr","x":17.5,"y":-23},{"g":"Ganetespib","x":5.2,"y":-25.8},{"g":"Pertuzumab","x":29.6,"y":-29.5},{"g":"TDM1/P","x":25.3,"y":-32.9},{"g":"Ganitumab","x":13.2,"y":-28.6},{"g":"Ganitumab","x":-7.8,"y":-20.1},{"g":"VC","x":-16.4,"y":-17.3},{"g":"Pertuzumab","x":-23.6,"y":-16.4},{"g":"Ganetespib","x":24.7,"y":-16},{"g":"Ctr","x":-19.2,"y":-19.2},{"g":"Pembro","x":-0.6,"y":-18.2},{"g":"N","x":0.9,"y":-12.6},{"g":"Pertuzumab","x":10.9,"y":-14.5},{"g":"Ctr","x":2.9,"y":-10.7}
]},
"vconcat":[
{"width":563,"height":415,"view":{"stroke":"#f2f2f2"},"title":{"text":"a","anchor":"start","frame":"group","fontSize":10,"fontWeight":"bold","dx":-62,"offset":2,"color":"#000"},
"layer":[
{"data":{"name":"kde"},"mark":{"type":"line","interpolate":"cardinal-closed","stroke":null,"strokeWidth":0,"fillOpacity":1},"encoding":{"x":{"field":"x","type":"quantitative","scale":{"domain":[-182,309],"range":[-7,563],"nice":false,"zero":false},"axis":{"values":[-100,0,100,200,300],"title":"PC1","labelFontSize":11.3,"titleFontSize":11.5,"tickSize":3,"domainColor":"#333","domainWidth":1.4,"tickColor":"#333","labelPadding":3,"titlePadding":2}},"y":{"field":"y","type":"quantitative","scale":{"domain":[-110,123.7],"nice":false,"zero":false},"axis":{"values":[-100,-50,0,50,100],"title":"PC2","labelFontSize":11.3,"titleFontSize":11.5,"tickSize":3,"domainColor":"#555","domainWidth":2,"tickColor":"#333","offset":7,"labelPadding":3,"titlePadding":6}},"order":{"field":"i","type":"quantitative"},"fill":{"field":"l","type":"nominal","legend":null,"scale":{"domain":["a","b","c","d","e","f","g","h","j","k","m","n","o"],"range":["#c5c5c5","#c3c3c3","#bfbfbf","#b6b6b6","#adadad","#a1a1a1","#949494","#868686","#787878","#6a6a6a","#5c5c5c","#4e4e4e","#404040"]}}}},
{"data":{"name":"pts"},"mark":{"type":"circle","size":27,"opacity":1},"encoding":{"x":{"field":"x","type":"quantitative"},"y":{"field":"y","type":"quantitative"},"color":{"field":"g","type":"nominal","scale":{"domain":["VC","N","Ctr","AMG386","MK2206","Ganitumab","Ganetespib","TDM1/P","Pertuzumab","Pembro"],"range":["#1f77b4","#ff7f0e","#1f9e63","#e0202a","#a93bf5","#8c564b","#e377c2","#b8bd5c","#17becf","#aec7e8"]},"legend":{"title":null,"orient":"none","legendX":524,"legendY":3,"symbolSize":40,"symbolType":"circle","labelFontSize":11.6,"labelColor":"#111","rowPadding":2.8,"labelOffset":4,"symbolOpacity":1,"padding":0}}}}
]},
{"hconcat":[
{"width":205,"height":205,"view":{"stroke":"#222","strokeWidth":2},"title":{"text":"ISPY2 Confusion Matrix","fontSize":15.7,"frame":"group","offset":-37},
"data":{"values":[{"p":"0","t":"0","v":0},{"p":"1","t":"0","v":0.7},{"p":"0","t":"1","v":0},{"p":"1","t":"1","v":0.3}]},
"encoding":{"x":{"field":"p","type":"nominal","axis":{"title":"Predicted label","labelAngle":0,"labelFontSize":16,"titleFontSize":16,"tickSize":3.5,"domainColor":"#222","tickColor":"#222","titlePadding":2,"labelPadding":2}},"y":{"field":"t","type":"nominal","axis":{"title":"True label","labelFontSize":16,"titleFontSize":16,"tickSize":3.5,"domainColor":"#222","tickColor":"#222","titlePadding":5,"labelPadding":3}}},
"layer":[{"mark":{"type":"rect"},"encoding":{"fill":{"field":"v","type":"quantitative","scale":{"domain":[0,0.7],"range":["#f7fbff","#deebf7","#c6dbef","#9ecae1","#6baed6","#4292c6","#2171b5","#08519c","#08306b"]},"legend":{"title":null,"orient":"none","legendX":219,"legendY":0,"gradientLength":205,"gradientThickness":10,"gradientStrokeColor":"#222","gradientStrokeWidth":1,"values":[0,0.1,0.2,0.3,0.4,0.5,0.6,0.7],"labelFontSize":13.5,"labelColor":"#111","format":".1f","padding":0,"labelOffset":5,"encode":{"labels":{"update":{"baseline":{"value":"middle"}}}}}}}},
{"mark":{"type":"text","fontSize":16},"encoding":{"text":{"field":"v","type":"quantitative","format":".2f"},"color":{"condition":{"test":"datum.v>0.31","value":"#ffffff"},"value":"#08306b"}}},
{"data":{"values":[{"p":"0","t":"0","s":"b"}]},"mark":{"type":"text","fontSize":10,"fontWeight":"bold","dx":-106,"dy":-87,"color":"#000"},"encoding":{"text":{"field":"s"}}}]},
{"width":204,"height":205,"view":{"stroke":"#222","strokeWidth":2},"title":{"text":"ChemProbe Confusion Matrix","fontSize":15.7,"frame":"group","offset":-37},
"data":{"values":[{"p":"0","t":"0","v":0.37},{"p":"1","t":"0","v":0.33},{"p":"0","t":"1","v":0.09},{"p":"1","t":"1","v":0.21}]},
"encoding":{"x":{"field":"p","type":"nominal","axis":{"title":"Predicted label","labelAngle":0,"labelFontSize":16,"titleFontSize":16,"tickSize":3.5,"domainColor":"#222","tickColor":"#222","titlePadding":2,"labelPadding":2}},"y":{"field":"t","type":"nominal","axis":{"title":"True label","labelFontSize":16,"titleFontSize":16,"tickSize":3.5,"domainColor":"#222","tickColor":"#222","titlePadding":5,"labelPadding":3}}},
"layer":[{"mark":{"type":"rect"},"encoding":{"fill":{"field":"v","type":"quantitative","scale":{"domain":[0.0955,0.3707],"clamp":true,"range":["#f7fbff","#deebf7","#c6dbef","#9ecae1","#6baed6","#4292c6","#2171b5","#08519c","#08306b"]},"legend":{"title":null,"orient":"none","legendX":219,"legendY":0,"gradientLength":205,"gradientThickness":10,"gradientStrokeColor":"#222","gradientStrokeWidth":1,"values":[0.1,0.15,0.2,0.25,0.3,0.35],"labelFontSize":13.5,"labelColor":"#111","format":".2f","padding":0,"labelOffset":5,"encode":{"labels":{"update":{"baseline":{"value":"middle"}}}}}}}},
{"mark":{"type":"text","fontSize":16},"encoding":{"text":{"field":"v","type":"quantitative","format":".2f"},"color":{"condition":{"test":"datum.v>0.31","value":"#ffffff"},"value":"#08306b"}}},
{"data":{"values":[{"p":"0","t":"0","s":"c"}]},"mark":{"type":"text","fontSize":10,"fontWeight":"bold","dx":-97,"dy":-87,"color":"#000"},"encoding":{"text":{"field":"s"}}}]}
],"bounds":"flush","spacing":145,"resolve":{"scale":{"fill":"independent"}}}
]}
